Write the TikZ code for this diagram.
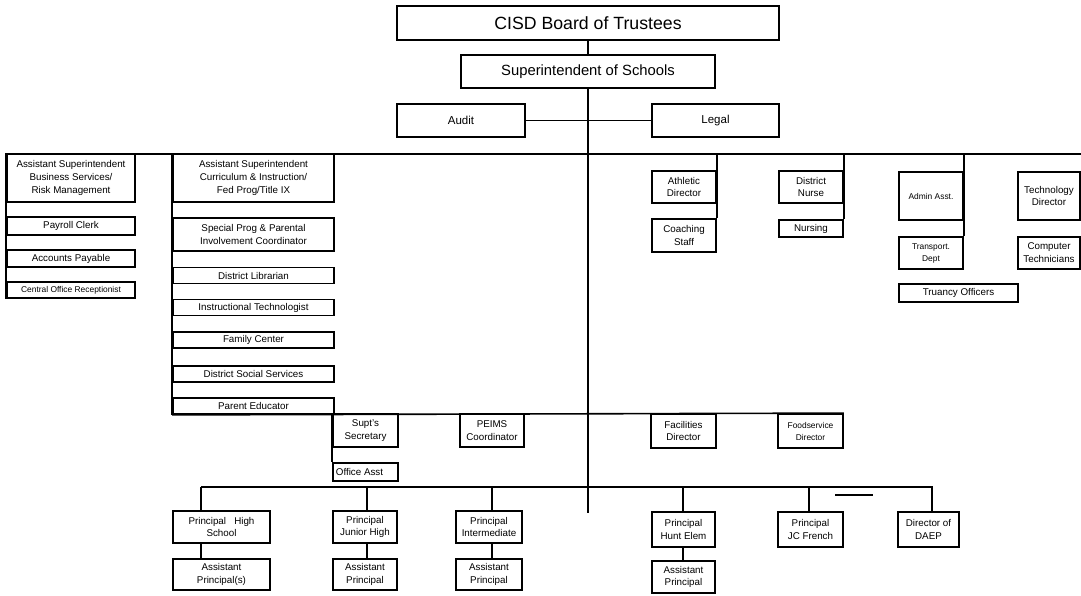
\documentclass[tikz,border=0pt]{standalone}
\usepackage{fontspec}
\setmainfont{Liberation Sans}
\tikzset{
  box/.style={draw, line width=1.8pt, inner sep=0pt, align=center, font=\fontsize{9.8}{12.8}\selectfont},
  smallbox/.style={box, font=\fontsize{8.4}{12}\selectfont},
  wh/.style 2 args={minimum width=#1, minimum height=#2},
  rail/.style={line width=1.6pt},
}
\begin{document}
\begin{tikzpicture}[x=1pt,y=-1pt]
\useasboundingbox (0,0) rectangle (1081,595);
% top of the chart
\node[box,wh={382}{34},font=\fontsize{17.7}{20}\selectfont] (board) at (588,23) {CISD Board of Trustees};
\node[box,wh={254}{33},font=\fontsize{14.8}{17}\selectfont] (sup) at (588,71.5) {Superintendent of Schools};
\node[box,wh={128}{33},font=\fontsize{11.5}{13}\selectfont] (audit) at (461,120.5) {Audit};
\node[box,wh={127}{33},font=\fontsize{11.5}{13}\selectfont] (legal) at (715.5,120.5) {Legal};
% business services
\node[box,wh={128}{48}] (bus) at (71,178) {Assistant Superintendent\\Business Services/\\Risk Management};
\node[box,wh={128}{18}] (pay) at (71,226) {Payroll Clerk};
\node[box,wh={128}{17}] (ap) at (71,258.5) {Accounts Payable};
\node[smallbox,wh={128}{16}] (rec) at (71,290) {Central Office Receptionist};
% curriculum
\node[box,wh={161}{48}] (cur) at (253.5,178) {Assistant Superintendent\\Curriculum \& Instruction/\\Fed Prog/Title IX};
\node[box,wh={161}{33}] (spec) at (253.5,234.5) {Special Prog \& Parental\\Involvement Coordinator};
\foreach \n/\y/\t in {lib/275.5/District Librarian, itech/307.5/Instructional Technologist,
    fam/340/Family Center, soc/374/District Social Services, pe/406/Parent Educator}
  \node[box,wh={161}{16}] (\n) at (253.5,\y) {\t};
% upper right
\node[box,wh={64}{32}] (ath) at (684,187) {Athletic\\Director};
\node[box,wh={64}{33}] (coach) at (684,235.5) {Coaching\\Staff};
\node[box,wh={64}{32}] (nurse) at (811,187) {District\\Nurse};
\node[box,wh={64}{17}] (nursing) at (811,228.5) {Nursing};
\node[smallbox,wh={64}{48}] (admin) at (931,196) {Admin Asst.};
\node[smallbox,wh={64}{32}] (trans) at (931,253) {Transport.\\Dept};
\node[box,wh={119}{18}] (truancy) at (958.5,293) {Truancy Officers};
\node[box,wh={62}{48}] (techdir) at (1049,196) {Technology\\Director};
\node[box,wh={62}{32}] (comp) at (1049,253) {Computer\\Technicians};
% middle row
\node[box,wh={65}{33}] (sec) at (365.5,430.5) {Supt's\\Secretary};
\node[box,wh={65}{18}] (office) at (365.5,472) {Office Asst\hspace*{12pt}};
\node[box,wh={64}{33}] (peims) at (492,430.5) {PEIMS\\Coordinator};
\node[box,wh={65}{34}] (fac) at (683.5,431) {Facilities\\Director};
\node[smallbox,wh={65}{34}] (food) at (810.5,431) {Foodservice\\Director};
% campuses
\foreach \n/\x/\cx/\w/\t in {phs/201/221.5/97/{Principal\ \ \ High\\School}, pjh/367/365/64/{Principal\\Junior High},
    pint/492/489/66/{Principal\\Intermediate}}{
  \node[box,wh={\w}{32}] (\n) at (\cx,527) {\t};
  \coordinate (v\n) at (\x,487);}
\foreach \n/\x/\cx/\w/\t in {phunt/683/683.5/63/{Principal\\Hunt Elem}, pjc/809/810.5/65/{Principal\\JC French},
    daep/932/928.5/61/{Director of\\DAEP}}{
  \node[box,wh={\w}{35}] (\n) at (\cx,529.5) {\t};
  \coordinate (v\n) at (\x,487);}
\node[box,wh={97}{31}] (aphs) at (221.5,574.5) {Assistant\\Principal(s)};
\node[box,wh={64}{31}] (apjh) at (365,574.5) {Assistant\\Principal};
\node[box,wh={66}{31}] (apint) at (489,574.5) {Assistant\\Principal};
\node[box,wh={63}{32}] (aphunt) at (683.5,577) {Assistant\\Principal};
% lines
\coordinate (railL) at (7,154);
\coordinate (railR) at (1081,154);
\coordinate (trunkend) at (588,513);
\coordinate (botL) at (201,487);
\coordinate (botR) at (933,487);
\coordinate (dashL) at (835,495);
\coordinate (dashR) at (873,495);
\draw[rail] (board.south) -- (sup.north);
\draw[line width=2pt] (sup.south) -- (trunkend);
\draw[rail] (audit.east) -- (legal.west);
\draw[rail] (railL) -- (railR);
\draw[rail] (bus.north west) -- (rec.south west);
\draw[rail] (cur.north west) -- (pe.south west);
\draw[rail] (ath.north east |- railR) -- (coach.north east);
\draw[rail] (nurse.north east |- railR) -- (nursing.north east);
\draw[rail] (admin.north east |- railR) -- (trans.north east);
\draw[rail] (pe.south west) -- (food.north east);
\draw[rail] (sec.north west) -- (office.north west);
\draw[rail] (botL) -- (botR);
\draw[line width=1.2pt] (dashL) -- (dashR);
\foreach \n in {phs,pjh,pint,phunt,pjc,daep}
  \draw[rail] (v\n) -- (v\n |- \n.north);
\foreach \n in {phs,pjh,pint,phunt}
  \draw[rail] (v\n |- \n.south) -- (v\n |- a\n.north);
\end{tikzpicture}
\end{document}
